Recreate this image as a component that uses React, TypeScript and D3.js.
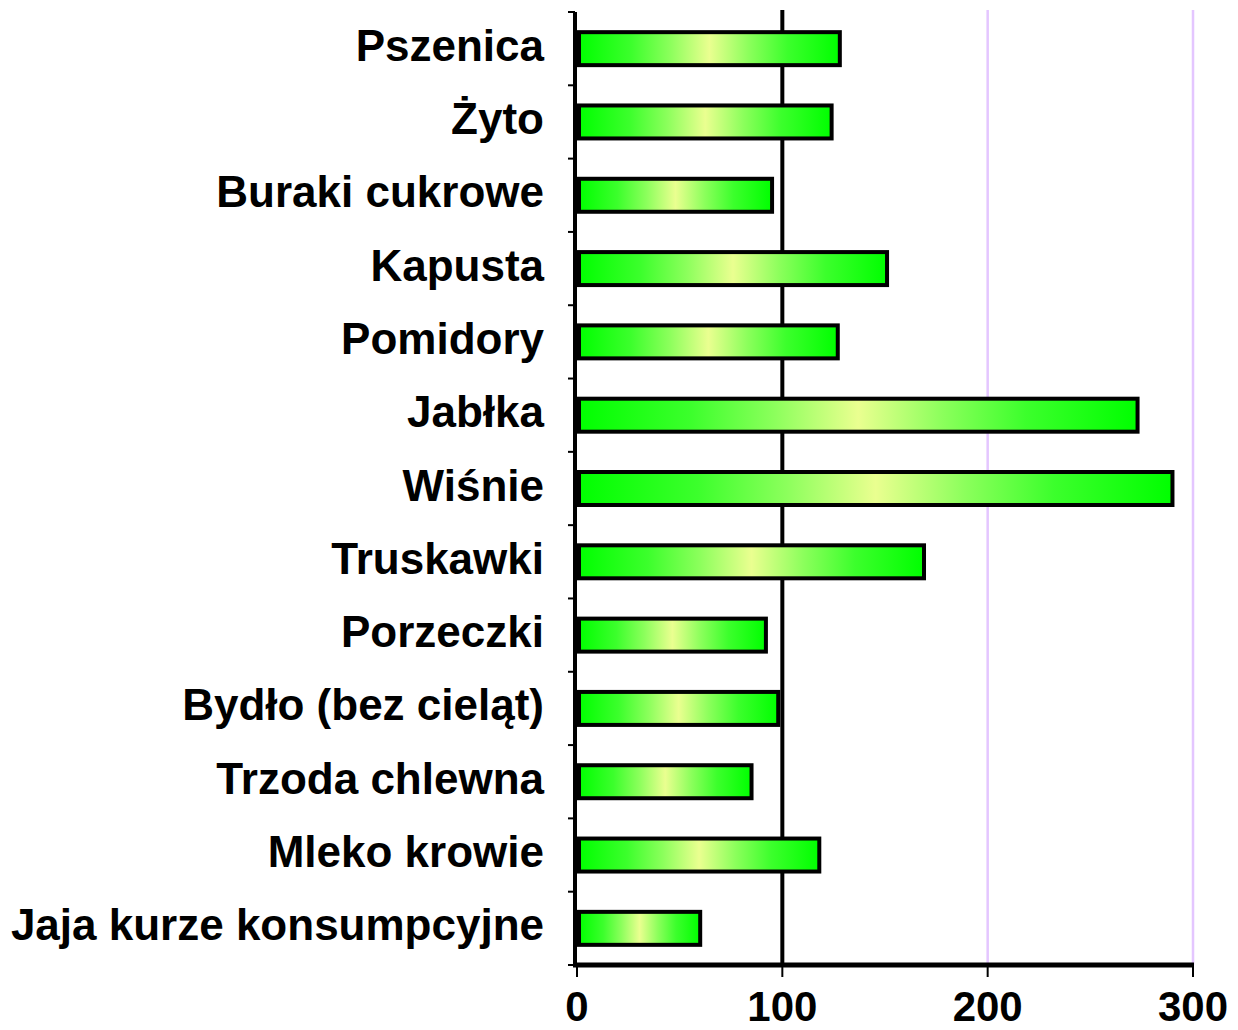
import * as d3 from "d3";
import React from "react";

const categories = [
  "Pszenica",
  "Żyto",
  "Buraki cukrowe",
  "Kapusta",
  "Pomidory",
  "Jabłka",
  "Wiśnie",
  "Truskawki",
  "Porzeczki",
  "Bydło (bez cieląt)",
  "Trzoda chlewna",
  "Mleko krowie",
  "Jaja kurze konsumpcyjne",
];
const values = [128, 124, 95, 151, 127, 273, 290, 169, 92, 98, 85, 118, 60];
const xTicks = [0, 100, 200, 300];

const W = 1238;
const H = 1030;
const margin = { top: 12, left: 577, right: 46, bottom: 65 };

export default function App() {
  const innerW = 1193 - margin.left;
  const innerH = H - margin.bottom - margin.top;

  const x = d3.scaleLinear().domain([0, 300]).range([0, innerW]);
  const y = d3.scaleBand().domain(categories).range([0, innerH]).paddingInner(0.55).paddingOuter(0.275);
  const step = y.step();
  const font = "'Liberation Sans', Arial, sans-serif";

  return (
    <svg width={W} height={H} style={{ position: "absolute", left: 0, top: 0, background: "#fff" }}>
      <defs>
        <linearGradient id="barGrad" x1="0" x2="1" y1="0" y2="0">
          <stop offset="0" stopColor="#00ff00" />
          <stop offset="0.2" stopColor="#3cff2c" />
          <stop offset="0.35" stopColor="#8cff5c" />
          <stop offset="0.5" stopColor="#eaff90" />
          <stop offset="0.65" stopColor="#8cff5c" />
          <stop offset="0.8" stopColor="#3cff2c" />
          <stop offset="1" stopColor="#00ff00" />
        </linearGradient>
      </defs>
      <g transform={`translate(${margin.left},${margin.top})`}>
        {/* gridlines */}
        {xTicks.slice(1).map((t) => (
          <line
            key={t}
            x1={x(t)}
            x2={x(t)}
            y1={-2}
            y2={innerH}
            stroke={t === 100 ? "#000" : "#e4c6ff"}
            strokeWidth={t === 100 ? 4 : 2.5}
          />
        ))}
        {/* bars */}
        {categories.map((c, i) => (
          <rect
            key={c}
            x={x(0) + 2}
            y={y(c)!}
            width={x(values[i]) - 2}
            height={y.bandwidth()}
            fill="url(#barGrad)"
            stroke="#000"
            strokeWidth={4}
          />
        ))}
        {/* left axis */}
        <line x1={-2} x2={-2} y1={0} y2={innerH + 2} stroke="#000" strokeWidth={4} />
        {d3.range(categories.length + 1).map((i) => (
          <line key={i} x1={-9} x2={-2} y1={i * step} y2={i * step} stroke="#000" strokeWidth={2} />
        ))}
        {categories.map((c) => (
          <text
            key={c}
            x={-33}
            y={y(c)! + y.bandwidth() / 2 + 12}
            textAnchor="end"
            fontFamily={font}
            fontSize={44}
            fontWeight="bold"
            fill="#000"
          >
            {c}
          </text>
        ))}
        {/* bottom axis */}
        <line x1={-4} x2={innerW + 1} y1={innerH} y2={innerH} stroke="#000" strokeWidth={5} />
        {xTicks.map((t) => (
          <g key={t} transform={`translate(${x(t)},${innerH})`}>
            <line y1={0} y2={12} stroke="#000" strokeWidth={2} />
            <text y={56} textAnchor="middle" fontFamily={font} fontSize={42} fontWeight="bold" fill="#000">
              {t}
            </text>
          </g>
        ))}
      </g>
    </svg>
  );
}
